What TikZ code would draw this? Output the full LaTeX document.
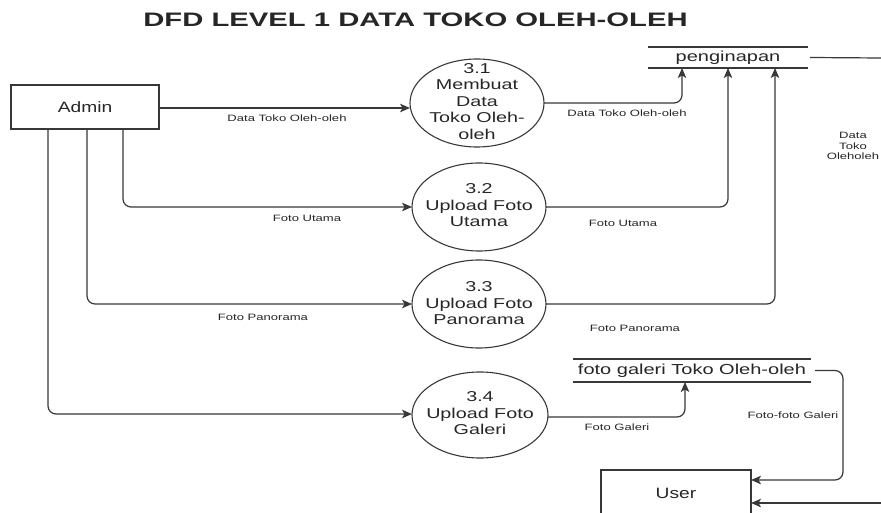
\documentclass[tikz,border=0pt]{standalone}
\usepackage{fontspec}
\setmainfont{Liberation Sans}
\usetikzlibrary{arrows.meta,shapes.geometric}

% horizontally widened text
\newcommand{\hstretch}[2]{\scalebox{#1}[1]{#2}}
\newcommand{\lines}[1]{\begin{tabular}{@{}c@{}}#1\end{tabular}}

\tikzset{
  every node/.style={inner sep=0pt, outer sep=0pt, text=black!85},
  flowline/.style={draw=black!78, line width=1.2pt, rounded corners=8pt},
  flow/.style={flowline, -{Stealth[length=10pt,width=8.5pt,inset=2.5pt]}},
  process/.style={draw=black!78, line width=1.1pt, ellipse, minimum width=134pt, minimum height=88pt},
  ptext/.style={font=\fontsize{14.3}{16.5}\selectfont, align=center},
  entity/.style={draw=black!78, line width=1.1pt, rectangle, font=\fontsize{15}{18}\selectfont},
  store/.style={rectangle, font=\fontsize{14.5}{17}\selectfont},
  storeline/.style={draw=black!78, line width=1.1pt},
  lbl/.style={font=\fontsize{9.2}{10.5}\selectfont, align=center},
}

\begin{document}
\begin{tikzpicture}[x=1pt, y=-1pt]
\useasboundingbox (0,0) rectangle (881,513);
\clip (0,0) rectangle (881,513);

% title
\node[font=\bfseries\fontsize{19.5}{22}\selectfont] (title) at (415.5,20)
  {\hstretch{1.5}{DFD LEVEL 1 DATA TOKO OLEH-OLEH}};

% external entities
\node[entity, minimum width=148pt, minimum height=44pt] (admin) at (85,107) {\hstretch{1.28}{Admin}};
\node[entity, minimum width=150pt, minimum height=46pt] (user) at (676,493) {\hstretch{1.28}{User}};

% processes
\node[process] (p31) at (477,103) {};
\node[ptext] (t31) at (p31) {\hstretch{1.38}{\lines{3.1\\Membuat\\Data\\Toko Oleh-\\oleh}}};
\node[process] (p32) at (479,207) {};
\node[ptext] (t32) at (p32) {\hstretch{1.38}{\lines{3.2\\Upload Foto\\Utama}}};
\node[process] (p33) at (479,304) {};
\node[ptext] (t33) at ([yshift=-1pt]p33) {\hstretch{1.38}{\lines{3.3\\Upload Foto\\Panorama}}};
\node[process, minimum width=136pt, minimum height=86pt] (p34) at (480,415) {};
\node[ptext] (t34) at (p34) {\hstretch{1.38}{\lines{3.4\\Upload Foto\\Galeri}}};

% data stores
\node[store, minimum width=160pt, minimum height=21pt] (ds1) at (728,57.5) {\hstretch{1.38}{penginapan}};
\draw[storeline] (ds1.north west) -- (ds1.north east);
\draw[storeline] (ds1.south west) -- (ds1.south east);
\node[store, minimum width=238pt, minimum height=23pt] (ds2) at (692,370.5) {\hstretch{1.38}{foto galeri Toko Oleh-oleh}};
\draw[storeline] (ds2.north west) -- (ds2.north east);
\draw[storeline] (ds2.south west) -- (ds2.south east);

% free ends at the right border
\coordinate (edgeA) at (881,58);
\coordinate (edgeB) at (881,503);

% admin to processes
\draw[flow] (admin.east |- 0,108) -- (p31.west |- 0,108);
\draw[flow] ([xshift=112pt]admin.south west) |- (p32.west);
\draw[flow] ([xshift=76pt]admin.south west) |- (p33.west);
\draw[flow] ([xshift=37pt]admin.south west) |- ([yshift=1pt]p34.west);

% processes to stores
\draw[flow] (p31.east) -| ([xshift=34pt]ds1.south west);
\draw[flow] (p32.east) -| (ds1.south);
\draw[flow] (p33.east) -| ([xshift=127pt]ds1.south west);
\draw[flow] ([yshift=-2pt]p34.east) -| ([xshift=112pt]ds2.south west);

% stores to user
\draw[flowline] ([xshift=2pt]ds1.east) -- (edgeA);
\draw[flow] ([xshift=4pt]ds2.east) -- ++(28,0) |- ([yshift=13pt]user.east);
\draw[flow] (edgeB) -- (edgeB -| user.east);

% flow labels
\node[lbl] (l1) at (287,118) {\hstretch{1.42}{Data Toko Oleh-oleh}};
\node[lbl] (l2) at (307,218) {\hstretch{1.42}{Foto Utama}};
\node[lbl] (l3) at (263,317) {\hstretch{1.42}{Foto Panorama}};
\node[lbl] (l4) at (627,113) {\hstretch{1.42}{Data Toko Oleh-oleh}};
\node[lbl] (l5) at (623,223) {\hstretch{1.42}{Foto Utama}};
\node[lbl] (l6) at (635,328) {\hstretch{1.42}{Foto Panorama}};
\node[lbl] (l7) at (617,427) {\hstretch{1.42}{Foto Galeri}};
\node[lbl] (l8) at (793,415) {\hstretch{1.42}{Foto-foto Galeri}};
\node[lbl] (l9) at (853,147) {\hstretch{1.42}{\lines{Data\\Toko\\Oleholeh}}};
\end{tikzpicture}
\end{document}
